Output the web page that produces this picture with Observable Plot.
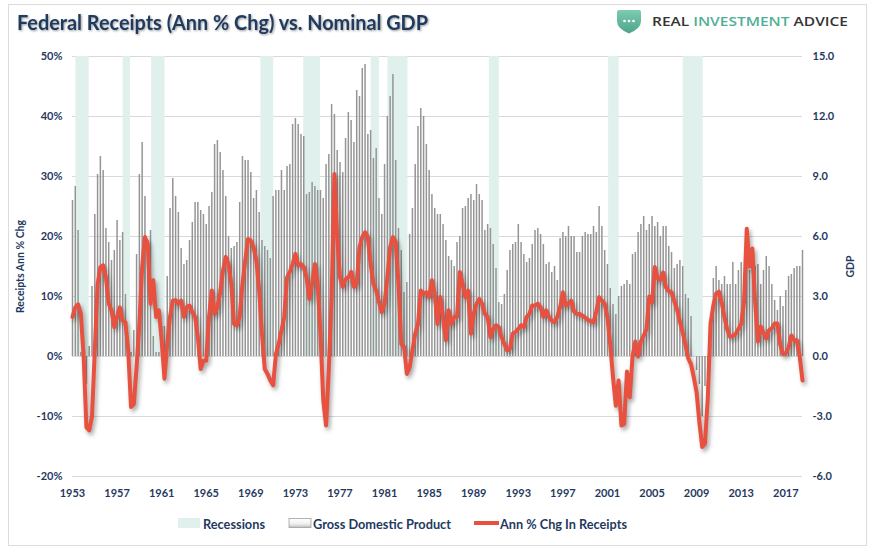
<!DOCTYPE html>
<html><head><meta charset="utf-8">
<script src="https://cdn.jsdelivr.net/npm/d3@7"></script>
<script src="https://cdn.jsdelivr.net/npm/@observablehq/plot@0.6"></script>
<style>
html,body{margin:0;padding:0;background:#fff;}
#page{position:relative;width:876px;height:554px;overflow:hidden;font-family:Lato,sans-serif;}
#frame{position:absolute;left:8px;top:4px;width:859px;height:542px;border:1px solid #dcdcdc;box-sizing:border-box;}
#header{position:absolute;left:0;top:0;}
#chart{position:absolute;left:0;top:45px;}
#legend{position:absolute;left:0;top:505px;}
</style></head>
<body><div id="page"><div id="frame"></div>
<svg id="header" width="876" height="45"></svg>
<div id="chart"></div>
<svg id="legend" width="876" height="45"></svg>
</div>
<script>
// ---------- DATA (quarterly, starting 1953 Q1) ----------
const startYear = 1953;
const gdp1953_1974 = [7.8, 8.5, 6.3, 0.2, 0.2, -1.4, 0.5, 3.5, 7.1, 9.1,
  10.0, 9.3, 6.4, 5.7, 4.8, 5.3, 6.8, 5.8, 6.2, 3.1,
  0.2, 0.2, 1.3, 5.1, 9.1, 10.7, 8.0, 5.8, 6.3, 1.0,
  0.2, 0.2, 1.5, 1.5, 4.0, 7.4, 8.9, 8.0, 7.2, 5.4,
  4.6, 4.8, 5.8, 6.7, 7.7, 7.7, 7.3, 7.1, 6.6, 7.5,
  8.2, 10.6, 10.8, 10.2, 9.3, 8.0, 6.0, 5.4, 5.5, 5.7,
  7.7, 10.0, 9.8, 9.8, 9.2, 7.9, 8.3, 7.2, 5.8, 5.5,
  5.3, 4.9, 8.0, 8.3, 8.3, 9.3, 8.3, 9.5, 9.6, 11.6,
  11.9, 11.6, 11.1, 11.0, 8.1, 8.2, 8.7];
const gdp1974_1996 = [8.5, 8.3, 8.3, 7.9, 9.6, 10.1, 12.6, 12.1, 10.3, 9.7,
  9.2, 10.9, 12.2, 11.8, 10.7, 13.3, 13.0, 14.4, 14.6, 11.1,
  11.3, 9.9, 10.4, 7.9, 7.1, 9.6, 12.0, 13.0, 14.1, 9.8,
  6.4, 5.3, 3.2, 3.7, 6.1, 7.4, 9.6, 11.5, 12.4, 12.0,
  10.6, 9.3, 8.1, 7.4, 7.1, 7.1, 6.6, 5.8, 5.0, 4.8,
  4.5, 5.7, 6.0, 7.4, 7.5, 7.9, 8.1, 7.8, 8.6, 8.1,
  7.8, 6.3, 6.6, 6.4, 5.6, 4.4, 2.7, 2.6, 3.1, 4.3,
  5.3, 5.6, 5.7, 6.6, 5.7, 5.1, 4.7, 4.9, 5.6, 6.3,
  6.4, 6.1, 5.6, 4.6, 4.7, 4.2, 4.5, 3.8, 5.9];
const gdp1997_2018 = [6.2, 6.0, 6.5, 6.0, 6.0, 5.2, 5.2, 6.0, 6.2, 6.1,
  6.1, 6.5, 6.2, 7.5, 6.5, 5.3, 4.6, 3.4, 2.6, 2.1,
  3.0, 3.5, 3.6, 3.8, 3.6, 5.1, 5.2, 6.2, 6.6, 7.0,
  6.3, 6.6, 7.0, 6.5, 6.7, 6.0, 6.5, 6.5, 5.5, 5.2,
  4.4, 4.6, 4.8, 4.5, 3.1, 2.9, 2.0, 0.0, -0.7, -1.4,
  -3.0, -1.5, -0.4, 0.6, 3.9, 4.5, 3.8, 3.6, 4.0, 3.6,
  3.6, 4.7, 3.6, 4.3, 4.7, 3.3, 4.5, 4.3, 5.1, 4.5,
  4.6, 3.6, 4.3, 5.0, 4.5, 3.6, 2.8, 2.3, 3.0, 2.5,
  3.3, 4.0, 4.1, 4.4, 4.5, 4.5, 5.3];

const receipts1953_1974 = [6.6, 8.2, 8.7, 7.1, 0, -11.8, -12.3, -10, 1, 12,
  14.9, 15.2, 13.2, 8.8, 7.7, 4.9, 6.6, 8.2, 6, 5.7,
  1, -8.4, -7.9, -1.8, 5.4, 14.9, 19.9, 18.8, 8.8, 12.7,
  6.6, 7.7, 2.7, -3.7, 2.1, 6.6, 9.3, 9.4, 8.8, 9.3,
  6.6, 8.2, 8.5, 7.4, 6.6, 3.2, -2.1, -0.7, -0.7, 6.6,
  11, 7.1, 8.2, 10.7, 14.3, 16.6, 15.4, 12.1, 5.4, 5.2,
  6.6, 12.1, 16, 19.6, 19.3, 18.2, 16, 11, 3.8, -2.1,
  -2.9, -4, -4.8, 0.4, 2.1, 4.3, 6.6, 13.2, 14.1, 15.4,
  17.1, 15.2, 15.4, 14.9, 13.2, 9.6, 12.1];
const receipts1974_1996 = [15.4, 12.1, 3.8, -7.3, -11.5, -2, 10, 30.4, 20, 13.2,
  11.6, 12.9, 13.2, 14.1, 11.6, 12.1, 18.2, 19.9, 20.7, 19.9,
  15.4, 12.1, 11, 9.1, 7.4, 8.8, 13.2, 18.2, 19.9, 19.1,
  12.1, 2.1, 1.6, -2.9, -1.8, 1, 3.8, 5.4, 11, 10.4,
  10.7, 9.9, 12.7, 10.4, 5.4, 9.9, 6.6, 2.7, 7.7, 5.4,
  6.6, 6.6, 14.1, 12.1, 9.9, 11, 3.8, 7.1, 8.8, 9.6,
  8.8, 7.1, 6.6, 3.2, 4.6, 5.2, 4.9, 3.2, 2.1, 1,
  1.3, 3.8, 4.1, 4.6, 5.2, 4.9, 6.6, 7.1, 8.5, 8.5,
  8.8, 8.2, 6.6, 7.7, 6.6, 6, 5.7, 6.6, 8.2];
const receipts1997_2018 = [10.7, 8.5, 8.8, 9.3, 7.5, 7.1, 7.1, 6.8, 6.5, 6.1,
  5.9, 5.7, 7.5, 9.9, 9.3, 8.8, 6.5, 2, -3.5, -8.2,
  -4, -11.5, -11.2, -2.5, -6.8, 0, 2.5, 0, 2.5, 3.5,
  4.5, 10, 9, 14.9, 13, 12.8, 14, 11.5, 10.9, 10.7,
  9.2, 7.8, 5.8, 4, 2, -0.3, -1.3, -3.5, -6, -11,
  -15.1, -14.5, -7, 5.5, 8.5, 10.5, 10.8, 9, 6.5, 4.5,
  3.3, 3.4, 3.8, 4.6, 5.4, 9, 21.3, 15, 18, 9,
  2.5, 5, 4, 3, 4.4, 4.7, 5.5, 5.5, 2, 0.4,
  0.5, 1.5, 3.5, 2.7, 2.7, 0, -4];

const recessionStart = [1953.3, 1957.55, 1960.1, 1969.9, 1973.75, 1979.8, 1981.3, 1990.4, 2001.1, 2007.8];
const recessionEnd   = [1954.5, 1958.2, 1961.3, 1971.05, 1975.25, 1980.55, 1983.1, 1991.3, 2002.05, 2009.6];

const yearTicks = [1953, 1957, 1961, 1965, 1969, 1973, 1977, 1981, 1985, 1989, 1993, 1997, 2001, 2005, 2009, 2013, 2017];
const leftTicks = [-20, -10, 0, 10, 20, 30, 40, 50];
const leftTitle = "Receipts Ann % Chg";
const rightTitle = "GDP";
const titleText = "Federal Receipts (Ann % Chg) vs. Nominal GDP";
const legendLabels = ["Recessions", "Gross Domestic Product", "Ann % Chg In Receipts"];

// ---------- BUILD ----------
const gdpGrowth = [...gdp1953_1974, ...gdp1974_1996, ...gdp1997_2018];
const receiptsChg = [...receipts1953_1974, ...receipts1974_1996, ...receipts1997_2018];
const n = gdpGrowth.length;
const idx = d3.range(n);
const qYear = i => startYear + i / 4;
const gdpToPct = 10 / 3; // right axis (GDP) 3.0 == left axis 10%
const navy = "#1f3a5f";
const red = "#e8503f";
const recFill = "#e0f1ed";

const chart = Plot.plot({
  width: 876, height: 460,
  marginLeft: 72, marginRight: 74, marginTop: 11, marginBottom: 29,
  style: {fontFamily: "Lato, sans-serif", fontSize: "11px", fontWeight: "700", color: navy, background: "transparent", overflow: "visible"},
  x: {domain: [startYear, qYear(n - 1)]},
  y: {domain: [-20, 50]},
  marks: [
    Plot.ruleY(leftTicks, {stroke: "#d9d9d9", strokeWidth: 1}),
    Plot.rect(d3.range(recessionStart.length), {x1: i => recessionStart[i], x2: i => recessionEnd[i], y1: 0, y2: 50, fill: recFill}),
    Plot.ruleX(idx, {x: qYear, y1: 0, y2: i => gdpGrowth[i] * gdpToPct, stroke: "#959595", strokeWidth: 1.5}),
    Plot.line(idx, {x: qYear, y: i => receiptsChg[i], stroke: red, strokeWidth: 4, strokeLinejoin: "round", strokeLinecap: "round"}),
    Plot.axisY({ticks: leftTicks, anchor: "left", tickSize: 0, tickPadding: 10, tickFormat: d => d + "%", label: null}),
    Plot.axisY({ticks: leftTicks, anchor: "right", tickSize: 0, tickPadding: 10, tickFormat: d => (d / gdpToPct).toFixed(1), label: null}),
    Plot.axisX({ticks: yearTicks, tickSize: 0, tickPadding: 13, tickFormat: d => String(d), label: null}),
    Plot.text([leftTitle], {text: d => d, frameAnchor: "left", textAnchor: "middle", rotate: -90, dx: -52, fontSize: 10.5, fill: navy}),
    Plot.text([rightTitle], {text: d => d, frameAnchor: "right", textAnchor: "middle", rotate: -90, dx: 48, fontSize: 10.5, fill: navy})
  ]
});
chart.querySelectorAll('g[aria-label="line"] path').forEach(p => {
  p.style.filter = "drop-shadow(2px 3px 2px rgba(0,0,0,0.35))";
});
document.getElementById("chart").appendChild(chart);

// ---------- HEADER ----------
const header = document.getElementById("header");
header.innerHTML = `
  <text x="17" y="30" font-family="Lato, sans-serif" font-weight="700" font-size="21" fill="${navy}"
    textLength="411" lengthAdjust="spacingAndGlyphs"
    style="filter:drop-shadow(1px 1.5px 1px rgba(0,0,0,0.4))">${titleText}</text>
  <defs><linearGradient id="shield" x1="0" y1="0" x2="0" y2="1">
    <stop offset="0" stop-color="#7dcab2"/><stop offset="1" stop-color="#4ca58b"/></linearGradient></defs>
  <path d="M619,10 H639 Q641,10 641,12 V21 Q641,28.5 629,33.5 Q617,28.5 617,21 V12 Q617,10 619,10 Z" fill="url(#shield)"/>
  <circle cx="624.5" cy="21" r="1.3" fill="#fff"/><circle cx="629" cy="21" r="1.3" fill="#fff"/><circle cx="633.5" cy="21" r="1.3" fill="#fff"/>
  <text x="652" y="26" font-family="'Open Sans', sans-serif" font-weight="600" font-size="13" textLength="196" lengthAdjust="spacingAndGlyphs"><tspan fill="#333">REAL </tspan><tspan fill="#4fb096">INVESTMENT</tspan><tspan fill="#333"> ADVICE</tspan></text>`;

// ---------- LEGEND ----------
const legend = document.getElementById("legend");
legend.innerHTML = `
  <defs><linearGradient id="gdpg" x1="0" y1="0" x2="0" y2="1">
    <stop offset="0" stop-color="#ffffff"/><stop offset="0.6" stop-color="#f0f0f0"/><stop offset="1" stop-color="#bdbdbd"/></linearGradient></defs>
  <rect x="178" y="13" width="22" height="10" fill="${recFill}"/>
  <text x="203" y="23.5" font-family="Lato, sans-serif" font-weight="700" font-size="14" fill="${navy}" textLength="62" lengthAdjust="spacingAndGlyphs">${legendLabels[0]}</text>
  <rect x="289" y="13.5" width="22" height="9" fill="url(#gdpg)" stroke="#a0a0a0" stroke-width="0.8"/>
  <text x="313" y="23.5" font-family="Lato, sans-serif" font-weight="700" font-size="14" fill="${navy}" textLength="138" lengthAdjust="spacingAndGlyphs">${legendLabels[1]}</text>
  <line x1="474" x2="499" y1="18" y2="18" stroke="${red}" stroke-width="4"/>
  <text x="500" y="23.5" font-family="Lato, sans-serif" font-weight="700" font-size="14" fill="${navy}" textLength="127" lengthAdjust="spacingAndGlyphs">${legendLabels[2]}</text>`;
</script>
</body></html>
